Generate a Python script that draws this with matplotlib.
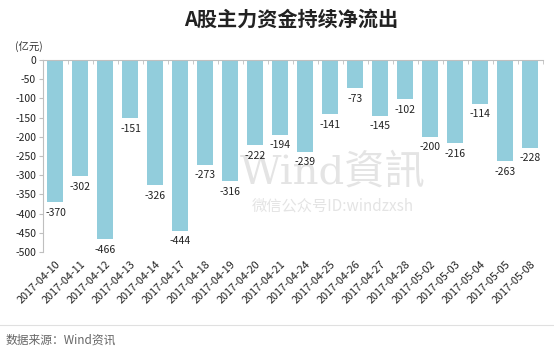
import matplotlib.pyplot as plt
import numpy as np

plt.rcParams['font.family'] = ['Noto Sans CJK SC', 'DejaVu Sans']

dates = ['2017-04-10', '2017-04-11', '2017-04-12', '2017-04-13', '2017-04-14',
         '2017-04-17', '2017-04-18', '2017-04-19', '2017-04-20', '2017-04-21',
         '2017-04-24', '2017-04-25', '2017-04-26', '2017-04-27', '2017-04-28',
         '2017-05-02', '2017-05-03', '2017-05-04', '2017-05-05', '2017-05-08']
net_flow = [-370, -302, -466, -151, -326, -444, -273, -316, -222, -194,
            -239, -141, -73, -145, -102, -200, -216, -114, -263, -228]
y_ticks = [0, -50, -100, -150, -200, -250, -300, -350, -400, -450, -500]

bar_color = '#92CDDC'
axis_color = '#BFBFBF'

fig = plt.figure(figsize=(5.54, 3.56), dpi=100)
ax = fig.add_axes([0.0776, 0.292, 0.9025, 0.5395])

x = np.arange(len(dates))
ax.bar(x, net_flow, width=0.64, color=bar_color, zorder=2)

for xi, v in zip(x, net_flow):
    ax.annotate(str(v), (xi, v), xytext=(0, -4), textcoords='offset points',
                ha='center', va='top', fontsize=7.5, color='#222222', zorder=3)

ax.set_xlim(-0.5, len(dates) - 0.5)
ax.set_ylim(-500, 0)
ax.set_yticks(y_ticks)
ax.set_yticklabels([str(t) for t in y_ticks], fontsize=7.5, color='#222222')
ax.set_xticks(x)
ax.set_xticklabels(dates, rotation=45, ha='right', rotation_mode='anchor',
                   fontsize=7.8, color='#222222')
ax.tick_params(axis='x', length=0, pad=5)
ax.tick_params(axis='y', length=3, color=axis_color, pad=2)

# category separators on the zero line
ax.set_xticks(np.arange(-0.5, len(dates)), minor=True)
ax.tick_params(axis='x', which='minor', top=True, bottom=False, direction='in',
               length=3, color=axis_color)

for side in ['right', 'bottom']:
    ax.spines[side].set_visible(False)
for side in ['top', 'left']:
    ax.spines[side].set_color(axis_color)
    ax.spines[side].set_linewidth(0.8)

fig.text(0.052, 0.87, '(亿元)', fontsize=7.5, color='#333333', ha='center', va='center')
fig.text(0.525, 0.945, 'A股主力资金持续净流出', fontsize=14.5, fontweight='bold',
         color='#222222', ha='center', va='center')

# watermark, kept behind bars and labels
ax.text(0.6, 0.515, 'Wind資訊', fontsize=29, color='#E4E4E4', ha='center',
        va='center', family=['DejaVu Serif', 'Noto Sans CJK SC'],
        transform=fig.transFigure, zorder=1)
ax.text(0.6, 0.42, '微信公众号ID:windzxsh', fontsize=11, color='#E4E4E4',
        ha='center', va='center', family=['Noto Sans CJK SC', 'DejaVu Serif'],
        transform=fig.transFigure, zorder=1)

fig.add_artist(plt.Line2D([0, 1], [0.087, 0.087], color='#E0E0E0', linewidth=0.8))
fig.text(0.01, 0.045, '数据来源：Wind资讯', fontsize=8.5, color='#666666',
         ha='left', va='center')

fig.savefig('out.png', dpi=100, facecolor='white')
